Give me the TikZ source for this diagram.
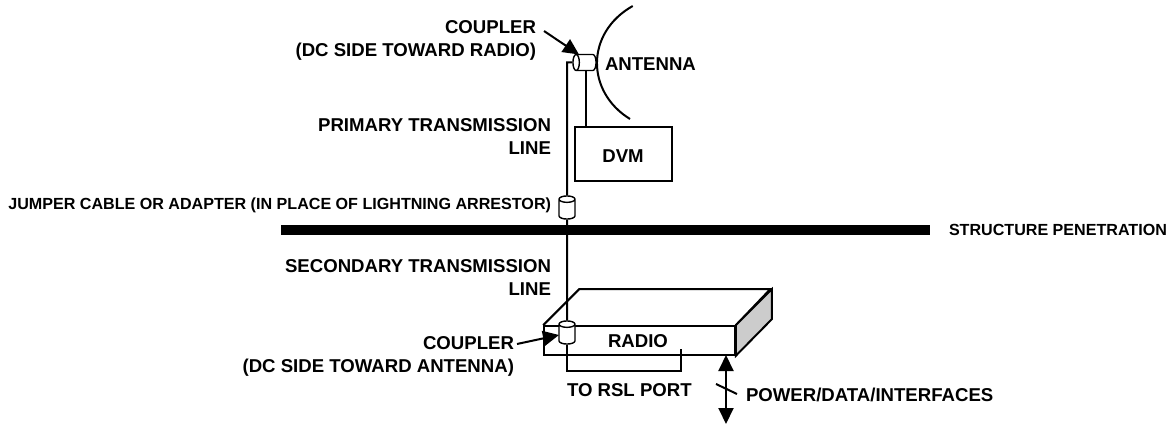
\documentclass[tikz,border=0pt]{standalone}
\usepackage{fontspec}
\setmainfont{Liberation Sans}
\usetikzlibrary{shapes.geometric, arrows.meta, positioning, calc}

\begin{document}
\begin{tikzpicture}[
    x=1pt, y=-1pt,
    line width=2pt,
    font=\fontsize{18.6}{22.5}\selectfont\bfseries,
    lbl/.style={align=right, inner sep=0pt},
    small/.style={inner sep=0pt, font=\fontsize{16.1}{17}\selectfont\bfseries},
    box/.style={draw, inner sep=0pt, line width=1.6pt},
    cpl/.style={draw, cylinder, aspect=0.4, fill=white, anchor=shape center, inner sep=8pt, line width=1.4pt},
    bigtip/.style={-{Stealth[length=16pt, width=15pt, inset=0pt]}},
]
\useasboundingbox (0,0) rectangle (1173,425);

% Structure penetration
\node[fill=black, minimum width=649pt, minimum height=10.5pt, inner sep=0pt] (wall) at (605.5,230) {};
\node[small, anchor=west] (wallLbl) at (948,230) {STRUCTURE PENETRATION};

% Radio
\node[box, minimum width=191pt, minimum height=29pt] (radio) at (639.5,340.5) {};
\node (radioLbl) at (638,341.5) {RADIO};
\draw (radio.north west) -- ++(36,-36) -- ++(191,0) -- (radio.north east);
\draw[fill=black!20] (radio.north east) -- ++(36,-36) -- ++(0,30) -- (radio.south east) -- cycle;

% DVM and antenna
\node[box, minimum width=97pt, minimum height=54pt] (dvm) at (623.5,154) {};
\node (dvmLbl) at (623,156) {DVM};
\coordinate (antTop) at (632.7,6);
\coordinate (antBot) at (630,119);
\draw (antTop) .. controls (585,33) and (586,92) .. (antBot);

% Couplers
\node[cpl, shape border rotate=180] (cplTop) at (584.5,62.5) {};
\node[cpl, shape border rotate=90] (jumper) at (567,207.5) {};
\node[cpl, shape border rotate=90] (cplRadio) at (567,332.5) {};

% Labels
\node[lbl, anchor=east] (cplTopLbl) at (537,40.5) {COUPLER\\(DC SIDE TOWARD RADIO)};
\node[lbl, anchor=west] (antLbl) at (604,64) {ANTENNA};
\node[lbl, anchor=east] (primLbl) at (552,136.5) {PRIMARY TRANSMISSION\\LINE};
\node[small, anchor=east] (jumperLbl) at (552,205) {JUMPER CABLE OR ADAPTER (IN PLACE OF LIGHTNING ARRESTOR)};
\node[lbl, anchor=east] (secLbl) at (552,277.5) {SECONDARY TRANSMISSION\\LINE};
\node[lbl, anchor=east] (cplRadioLbl) at (515,356.5) {COUPLER\\(DC SIDE TOWARD ANTENNA)};
\node[lbl, anchor=west] (rslLbl) at (566,390) {TO RSL PORT};
\node[lbl, anchor=west] (pwrLbl) at (745,395) {POWER/DATA/INTERFACES};

% Transmission line
\coordinate (bendTop) at (567,62.5);
\coordinate (rslEnd) at (681,349);
\coordinate (dvmTap) at (586,70.5);
\draw (cplTop.west) -- (bendTop) -- (jumper.north);
\draw (jumper.south) -- (cplRadio.north);
\draw (cplRadio.south) -- ++(0,26) -| (rslEnd);
\draw (dvmTap) -- (dvmTap |- dvm.north);

% Arrows
\coordinate (arrTop) at (544,31);
\coordinate (arrTopEnd) at (579,54.5);
\coordinate (arrRadio) at (517,344);
\coordinate (arrRadioEnd) at (559,335);
\coordinate (pwrTop) at (726,355);
\coordinate (pwrBot) at (726,424);
\coordinate (slashA) at (716,384);
\coordinate (slashB) at (737,394);
\draw[bigtip] (arrTop) -- (arrTopEnd);
\draw[bigtip] (arrRadio) -- (arrRadioEnd);
\draw[{Stealth[length=16pt, width=15pt, inset=0pt]}-{Stealth[length=16pt, width=15pt, inset=0pt]}] (pwrTop) -- (pwrBot);
\draw (slashA) -- (slashB);
\end{tikzpicture}
\end{document}
